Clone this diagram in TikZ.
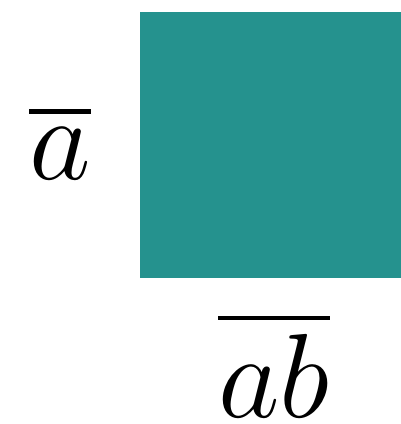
\documentclass[tikz,border=0pt]{standalone}
\usepackage{amsmath}
\usepackage{tikz}
\usetikzlibrary{positioning}
\definecolor{tealfill}{RGB}{37,146,142}

\begin{document}
\begin{tikzpicture}[
  cell/.style={rectangle, fill=tealfill, draw=none, inner sep=0pt, minimum width=2.61cm, minimum height=2.66cm},
  lbl/.style={inner sep=0pt, anchor=base, font=\Huge, scale=1.37}]
  \useasboundingbox (0,0) rectangle (4,4.24);

  \node [cell, anchor=north west] (sq) at (1.39,4.13) {};
  \node [lbl] (abar) at (0.60,2.44) {$\overline{a}$};
  \node [lbl] (abbar) at (2.74,0.06) {$\overline{ab}$};

\end{tikzpicture}
\end{document}
